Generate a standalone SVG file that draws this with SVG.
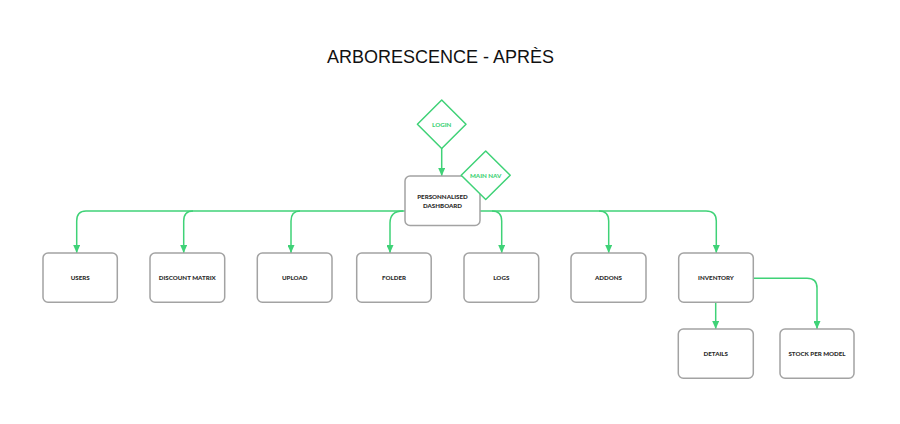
<svg xmlns="http://www.w3.org/2000/svg" width="900" height="424" viewBox="0 0 900 424">
<defs>
<marker id="ah" viewBox="0 0 8 7" refX="8" refY="3.5" markerWidth="8" markerHeight="7" markerUnits="userSpaceOnUse" orient="auto">
<path d="M0,0 L8,3.5 L0,7 Z" fill="#3fd277"/>
</marker>
<style>
.box{fill:#fff;stroke:#a3a3a3;stroke-width:1.5}
.dia{fill:#fff;stroke:#3fd277;stroke-width:1.5;stroke-linejoin:round}
.lbl{font-family:Lato,"Liberation Sans",sans-serif;font-weight:900;font-size:6.2px;fill:#2b2b2b;text-anchor:middle}
.glbl{font-family:Lato,"Liberation Sans",sans-serif;font-weight:900;font-size:6.2px;fill:#3fd277;text-anchor:middle}
.ln{fill:none;stroke:#3fd277;stroke-width:1.5}
.arr{fill:none;stroke:#3fd277;stroke-width:1.5;marker-end:url(#ah)}
</style>
</defs>
<rect width="900" height="424" fill="#fff"/>
<text x="440.5" y="63" font-family="'Liberation Sans',Arial,sans-serif" font-size="18" text-anchor="middle" fill="#111">ARBORESCENCE - APRÈS</text>
<g id="connectors">
<path class="ln" d="M405,211 H86"/>
<path class="ln" d="M480,211 H706"/>
<path class="arr" d="M441.7,148 V176"/>
<path class="arr" d="M86,211 Q76.7,211 76.7,221 V253"/>
<path class="arr" d="M193,211 Q183.7,211 183.7,221 V253"/>
<path class="arr" d="M300,211 Q291,211 291,221 V253"/>
<path class="arr" d="M403,211 Q390,211 390,223 V253"/>
<path class="arr" d="M492,211 Q501.7,211 501.7,221 V253"/>
<path class="arr" d="M599,211 Q608.7,211 608.7,221 V253"/>
<path class="arr" d="M706,211 Q716.3,211 716.3,221 V253"/>
<path class="arr" d="M715.7,302 V329"/>
<path class="arr" d="M753,278.3 H807 Q817,278.3 817,288 V329"/>
</g>
<g id="login"><path class="dia" d="M441.7,100 L466,124.3 L441.7,148.5 L417.4,124.3 Z"/><text class="glbl" x="441.7" y="126.5">LOGIN</text></g>
<g id="dashboard"><rect class="box" x="405" y="176" width="75" height="49.5" rx="5"/><text class="lbl" x="442.5" y="199">PERSONNALISED</text><text class="lbl" x="442.5" y="207.5">DASHBOARD</text></g>
<g id="mainnav"><path class="dia" d="M485.7,151 L510.2,175.3 L485.7,199.5 L461.2,175.3 Z"/><text class="glbl" x="485.7" y="177.5">MAIN NAV</text></g>
<g id="users"><rect class="box" x="43" y="253" width="74.3" height="49.3" rx="5"/><text class="lbl" x="80.2" y="280">USERS</text></g>
<g id="discount"><rect class="box" x="150" y="253" width="74.7" height="49.3" rx="5"/><text class="lbl" x="187.3" y="280">DISCOUNT MATRIX</text></g>
<g id="upload"><rect class="box" x="257.3" y="253" width="74.7" height="49.3" rx="5"/><text class="lbl" x="294.7" y="280">UPLOAD</text></g>
<g id="folder"><rect class="box" x="356.7" y="253" width="74.5" height="49.3" rx="5"/><text class="lbl" x="394" y="280">FOLDER</text></g>
<g id="logs"><rect class="box" x="464" y="253" width="74.7" height="49.3" rx="5"/><text class="lbl" x="501.3" y="280">LOGS</text></g>
<g id="addons"><rect class="box" x="571" y="253" width="75" height="49.3" rx="5"/><text class="lbl" x="608.5" y="280">ADDONS</text></g>
<g id="inventory"><rect class="box" x="678.7" y="253" width="74.6" height="49.3" rx="5"/><text class="lbl" x="716" y="280">INVENTORY</text></g>
<g id="details"><rect class="box" x="678.3" y="329" width="75" height="49.3" rx="5"/><text class="lbl" x="715.8" y="356">DETAILS</text></g>
<g id="stock"><rect class="box" x="780" y="329" width="74" height="49.3" rx="5"/><text class="lbl" x="817" y="356">STOCK PER MODEL</text></g>
</svg>
